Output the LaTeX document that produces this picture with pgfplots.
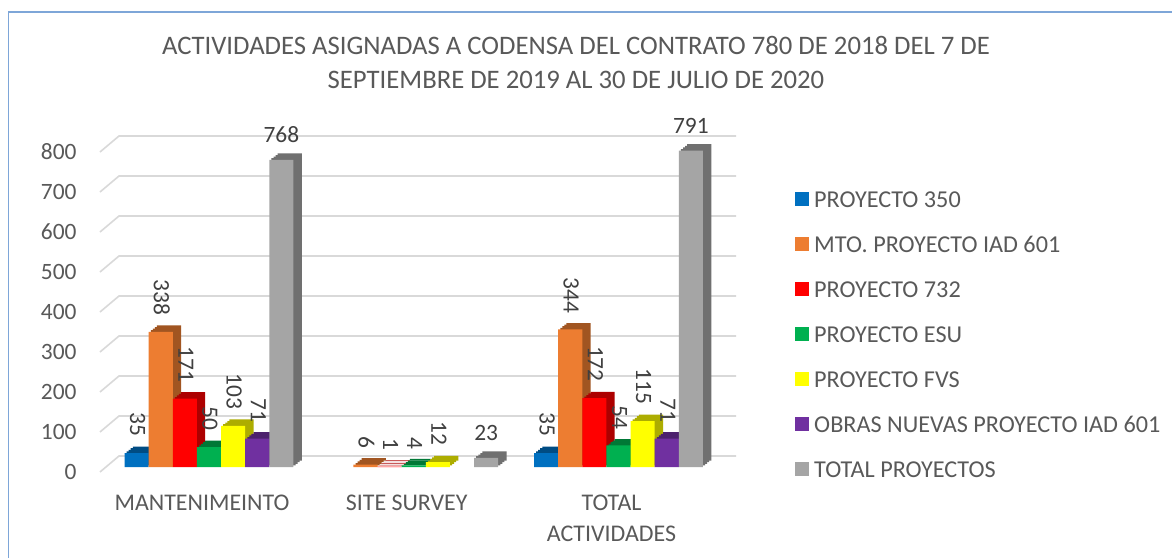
\documentclass[border=0pt]{standalone}
\usepackage{fontspec}
\setmainfont{Carlito}
\usepackage{pgfplots}
\pgfplotsset{compat=1.18}
\definecolor{cA}{HTML}{0070C0}
\definecolor{cB}{HTML}{ED7D31}
\definecolor{cC}{HTML}{FF0000}
\definecolor{cD}{HTML}{00B050}
\definecolor{cE}{HTML}{FFFF00}
\definecolor{cF}{HTML}{7030A0}
\definecolor{cG}{HTML}{A5A5A5}
\definecolor{textgray}{HTML}{595959}
\definecolor{labgray}{HTML}{404040}
\definecolor{gridc}{HTML}{D9D9D9}
\definecolor{frameblue}{HTML}{7EA6D8}
\newcommand{\xmn}{-0.5324}
\newcommand{\xmx}{2.5739}
% #1 colour, #2 bar shift, #3 coordinates, #4 label style
\newcommand{\bars}[4]{%
  \addplot[fill=#1!68!black, draw=none, bar shift=#2, forget plot, xshift=2.1bp, yshift=1.6bp] coordinates {#3};
  \addplot[fill=#1!68!black, draw=none, bar shift=#2, forget plot, xshift=4.2bp, yshift=3.2bp] coordinates {#3};
  \addplot[fill=#1!68!black, draw=none, bar shift=#2, forget plot, xshift=6.2bp, yshift=4.8bp] coordinates {#3};
  \addplot[fill=#1!68!black, draw=none, bar shift=#2, forget plot, xshift=8.3bp, yshift=6.4bp] coordinates {#3};
  \addplot[fill=#1, draw=none, bar shift=#2, nodes near coords,
    every node near coord/.append style={#4},
    legend image code/.code={\fill[#1] (0bp,-7bp) rectangle (14bp,7bp);}] coordinates {#3};
}
\tikzset{
  rotlab/.style={anchor=east, xshift=1bp, yshift=13bp, rotate=-90},
  horlab/.style={anchor=south, yshift=14bp},
}
\begin{document}
\begin{tikzpicture}
\useasboundingbox (0,0) rectangle (1172bp,558bp);
\fill[white] (0,0) rectangle (1172bp,558bp);
\draw[frameblue, line width=1.3bp] (8.5bp,-20bp) -- (8.5bp,546bp) -- (1200bp,546bp);
\begin{axis}[
  at={(100bp,91bp)}, anchor=south west,
  scale only axis, width=636bp, height=320bp,
  xmin=\xmn, xmax=\xmx, ymin=0, ymax=800,
  clip=false,
  ybar, bar width=24.14bp,
  axis line style={draw=none}, tick style={draw=none},
  major tick length=0pt,
  ytick={0,100,...,800},
  xtick={0,1,2},
  xticklabels={MANTENIMEINTO, SITE SURVEY, {TOTAL\\[3bp]ACTIVIDADES}},
  /pgf/number format/assume math mode=true,
  yticklabel style={font=\fontsize{23.5}{28}\selectfont, text=textgray, xshift=-20bp, yshift=-5bp},
  xticklabel style={font=\fontsize{24}{29}\selectfont, text=textgray, align=center, xshift=-7bp, yshift=-24bp},
  nodes near coords style={font=\fontsize{23.5}{28}\selectfont, text=labgray},
  title={ACTIVIDADES ASIGNADAS A CODENSA DEL CONTRATO 780 DE 2018 DEL 7 DE\\SEPTIEMBRE DE 2019 AL 30 DE JULIO DE 2020},
  title style={at={(axis description cs:0.7484,1.2453)}, anchor=center, align=center,
    font=\fontsize{26.8}{35}\selectfont, text=textgray},
  legend cell align=left,
  legend style={at={(axis description cs:1.0928,0.862)}, anchor=north west,
    draw=none, fill=none, inner sep=0pt, row sep=29bp, column sep=0bp,
    font=\fontsize{24.3}{28}\selectfont, text=textgray,
    nodes={text height=16bp, text depth=0bp, inner ysep=0bp, inner xsep=5bp}},
]
\pgfplotsinvokeforeach{0,100,...,800}{
  \draw[gridc, line width=1.6bp] ([yshift=-5bp]axis cs:\xmn,#1) -- ([xshift=19bp,yshift=11bp]axis cs:\xmn,#1) -- ([yshift=11bp]axis cs:\xmx,#1);
}
\bars{cA}{-72.42bp}{(0,35) (2,35)}{rotlab}
\bars{cB}{-48.28bp}{(0,338) (1,6) (2,344)}{rotlab}
\bars{cC}{-24.14bp}{(0,171) (1,1) (2,172)}{rotlab}
\bars{cD}{0bp}{(0,50) (1,4) (2,54)}{rotlab}
\bars{cE}{24.14bp}{(0,103) (1,12) (2,115)}{rotlab}
\bars{cF}{48.28bp}{(0,71) (2,71)}{rotlab}
\bars{cG}{72.42bp}{(0,768) (1,23) (2,791)}{horlab}
\legend{PROYECTO 350, MTO. PROYECTO IAD 601, PROYECTO 732, PROYECTO ESU, PROYECTO FVS, OBRAS NUEVAS PROYECTO IAD 601, TOTAL PROYECTOS}
\end{axis}
\end{tikzpicture}
\end{document}
